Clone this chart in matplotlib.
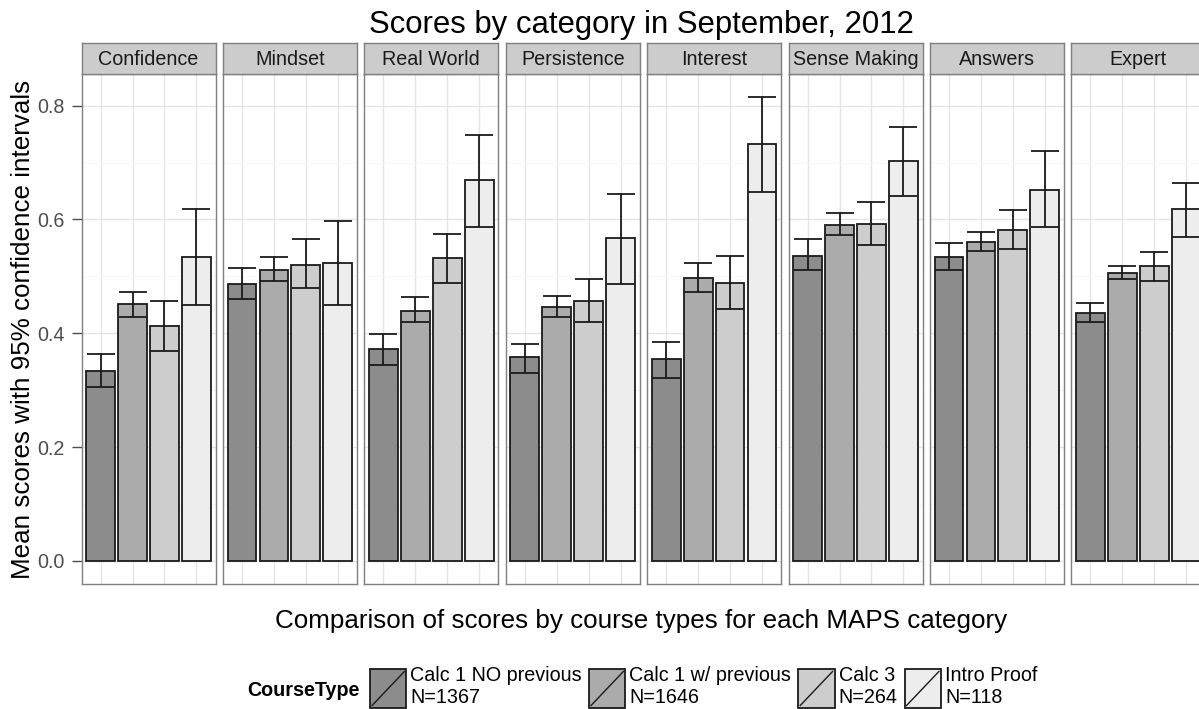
import matplotlib
matplotlib.use('Agg')
import matplotlib.pyplot as plt
from matplotlib.legend_handler import HandlerBase
from matplotlib.patches import Rectangle
from matplotlib.lines import Line2D
import numpy as np

plt.rcParams['font.family'] = ['Liberation Sans', 'DejaVu Sans']

# MAPS categories (facets) and course types
categories = ['Confidence', 'Mindset', 'Real World', 'Persistence',
              'Interest', 'Sense Making', 'Answers', 'Expert']
course_types = ['Calc 1 NO previous\nN=1367', 'Calc 1 w/ previous\nN=1646',
                'Calc 3\nN=264', 'Intro Proof\nN=118']

# mean scores, one list per course type (in category order)
calc1_no = [0.333, 0.486, 0.372, 0.358, 0.354, 0.536, 0.534, 0.436]
calc1_prev = [0.452, 0.512, 0.440, 0.446, 0.498, 0.591, 0.561, 0.506]
calc3 = [0.413, 0.520, 0.532, 0.456, 0.489, 0.592, 0.581, 0.518]
intro = [0.534, 0.524, 0.669, 0.568, 0.732, 0.702, 0.652, 0.619]

# 95% confidence interval bounds
calc1_no_lo = [0.305, 0.460, 0.344, 0.331, 0.322, 0.512, 0.512, 0.419]
calc1_no_hi = [0.364, 0.515, 0.399, 0.382, 0.385, 0.565, 0.559, 0.454]
calc1_prev_lo = [0.429, 0.492, 0.419, 0.429, 0.472, 0.572, 0.544, 0.495]
calc1_prev_hi = [0.473, 0.534, 0.463, 0.466, 0.523, 0.612, 0.578, 0.519]
calc3_lo = [0.368, 0.479, 0.489, 0.419, 0.442, 0.555, 0.548, 0.492]
calc3_hi = [0.456, 0.565, 0.575, 0.495, 0.536, 0.631, 0.616, 0.542]
intro_lo = [0.449, 0.449, 0.586, 0.486, 0.648, 0.641, 0.586, 0.570]
intro_hi = [0.619, 0.598, 0.749, 0.645, 0.815, 0.763, 0.721, 0.665]

means = [calc1_no, calc1_prev, calc3, intro]
lows = [calc1_no_lo, calc1_prev_lo, calc3_lo, intro_lo]
highs = [calc1_no_hi, calc1_prev_hi, calc3_hi, intro_hi]

fills = ['#8c8c8c', '#ababab', '#cdcdcd', '#ededed']
W, H = 1199, 709


class KeyHandler(HandlerBase):
    # ggplot style key: filled square with a diagonal slash
    def create_artists(self, legend, orig_handle, xdescent, ydescent,
                       width, height, fontsize, trans):
        rect = Rectangle((-xdescent, -ydescent), width, height,
                         facecolor=orig_handle.get_facecolor(),
                         edgecolor='#1a1a1a', lw=1.3, transform=trans)
        diag = Line2D([-xdescent + 1.5, -xdescent + width - 1.5],
                      [-ydescent + 1.5, -ydescent + height - 1.5],
                      color='#1a1a1a', lw=1.0, transform=trans)
        return [rect, diag]


fig = plt.figure(figsize=(W / 100, H / 100), dpi=100)

x = np.arange(1, len(course_types) + 1)
panel_w = 134
step = 141.4
for i, cat in enumerate(categories):
    left = 81.5 + i * step
    ax = fig.add_axes([left / W, 1 - 584 / H, panel_w / W, 510 / H])
    ax.set_xlim(0.4, 4.6)
    ax.set_ylim(-0.04075, 0.85575)
    ax.set_axisbelow(True)
    ax.set_yticks([0, 0.2, 0.4, 0.6, 0.8])
    ax.set_yticks(np.arange(0.1, 0.85, 0.2), minor=True)
    ax.set_xticks(x)
    ax.grid(True, which='major', color='#e5e5e5', lw=1.0)
    ax.grid(True, which='minor', axis='y', color='#f7f7f7', lw=0.8)
    for s in ax.spines.values():
        s.set_color('#7f7f7f')
        s.set_linewidth(1.0)
    ax.tick_params(axis='x', length=0, labelbottom=False)
    ax.tick_params(axis='y', which='minor', length=0)
    if i == 0:
        ax.set_yticklabels(['0.0', '0.2', '0.4', '0.6', '0.8'])
        ax.tick_params(axis='y', length=7, width=1.0, color='#4d4d4d',
                       labelsize=14.2, labelcolor='#4d4d4d', pad=5)
    else:
        ax.tick_params(axis='y', length=0, labelleft=False)

    for j in range(len(course_types)):
        m = means[j][i]
        lo = lows[j][i]
        hi = highs[j][i]
        ax.bar(x[j], m, width=0.9, color=fills[j], edgecolor='#1a1a1a',
               lw=1.3, zorder=2)
        ax.vlines(x[j], lo, hi, color='#1a1a1a', lw=1.3, zorder=3)
        ax.hlines([lo, hi], x[j] - 0.44, x[j] + 0.44, color='#1a1a1a',
                  lw=1.3, zorder=3)

    # facet strip
    sax = fig.add_axes([left / W, 1 - 74 / H, panel_w / W, 31.5 / H])
    sax.set_facecolor('#cccccc')
    sax.set_xticks([])
    sax.set_yticks([])
    for s in sax.spines.values():
        s.set_color('#7f7f7f')
        s.set_linewidth(1.0)
    sax.text(0.5, 0.47, cat, ha='center', va='center', fontsize=14.2,
             color='#1a1a1a', transform=sax.transAxes)

fig.text(641 / W, 1 - 33.5 / H, 'Scores by category in September, 2012',
         ha='center', va='baseline', fontsize=22.4)
fig.text(641 / W, 1 - 628 / H,
         'Comparison of scores by course types for each MAPS category',
         ha='center', va='baseline', fontsize=18.7)
fig.text(23 / W, 1 - 329 / H, 'Mean scores with 95% confidence intervals',
         ha='center', va='center', rotation=90, fontsize=18.7)

# legend
fig.text(247 / W, 1 - 690 / H, 'CourseType', ha='left', va='center',
         fontsize=14.2, fontweight='bold')
handles = [Rectangle((0, 0), 1, 1, facecolor=f) for f in fills]
fig.legend(handles, course_types, handler_map={Rectangle: KeyHandler()},
           loc='center left', bbox_to_anchor=(370 / W, 1 - 687 / H),
           ncol=4, frameon=False, fontsize=14.2, borderpad=0,
           borderaxespad=0, handlelength=1.85, handleheight=2.6,
           handletextpad=0.2, columnspacing=0.35, labelspacing=0)

fig.savefig('out.png', dpi=100)
